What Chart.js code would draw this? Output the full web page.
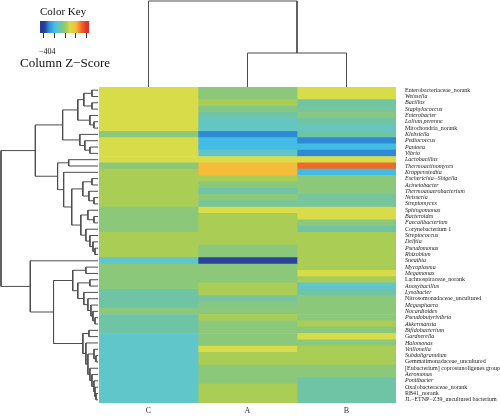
<!DOCTYPE html>
<html>
<head>
<meta charset="utf-8">
<script src="https://cdn.jsdelivr.net/npm/chart.js@4.4.1/dist/chart.umd.min.js"></script>
<style>
  body { margin: 0; background: #fff; }
  #wrap { position: relative; width: 500px; height: 416px; overflow: hidden; }
  #wrap canvas { position: absolute; left: 0; top: 0; }
  .txt { position: absolute; font-family: 'Liberation Serif', 'DejaVu Serif', serif; color: #111; white-space: nowrap; line-height: 1; }
</style>
</head>
<body>
<div id="wrap">
  <canvas id="heat" width="500" height="416"></canvas>
  <canvas id="rowDend" width="500" height="416"></canvas>
  <canvas id="colDend" width="500" height="416"></canvas>
  <canvas id="key" width="500" height="416"></canvas>
  <div class="txt" style="left:40px;top:6px;font-size:11px">Color Key</div>
  <div class="txt" style="left:39px;top:48px;font-size:8px">−404</div>
  <div class="txt" style="left:20px;top:56px;font-size:13px">Column Z−Score</div>
</div>
<script>
// heatmap of column z-scores, rows clustered

const colNames = ['C', 'A', 'B'];

const rowNames = [
  'Enterobacteriaceae_norank', 'Weissella', 'Bacillus', 'Staphylococcus', 'Enterobacter',
  'Lolium perenne', 'Mitochondria_norank', 'Klebsiella', 'Pediococcus', 'Pantoea',
  'Vibrio', 'Lactobacillus', 'Thermoactinomyces', 'Kroppenstedtia', 'Escherichia−Shigella',
  'Acinetobacter', 'Thermoanaerobacterium', 'Neisseria', 'Streptomyces', 'Sphingomonas',
  'Bacteroides', 'Faecalibacterium', 'Corynebacterium 1', 'Streptococcus', 'Delftia',
  'Pseudomonas', 'Rhizobium', 'Sneathia', 'Mycoplasma', 'Megamonas',
  'Lachnospiraceae_norank', 'Anoxybacillus', 'Lysobacter', 'Nitrosomonadaceae_uncultured', 'Megasphaera',
  'Nocardioides', 'Pseudobutyrivibrio', 'Akkermansia', 'Bifidobacterium', 'Gardnerella',
  'Halomonas', 'Veillonella', 'Subdoligranulum', 'Gemmatimonadaceae_uncultured', '[Eubacterium] coprostanoligenes group',
  'Aeromonas', 'Pontibacter', 'Oxalobacteraceae_norank', 'RB41_norank', 'JL−ETNP−Z39_uncultured bacterium'
];

// labels that are not set in italics
const uprightRows = [
  'Enterobacteriaceae_norank', 'Mitochondria_norank', 'Corynebacterium 1', 'Lachnospiraceae_norank',
  'Nitrosomonadaceae_uncultured', 'Gemmatimonadaceae_uncultured', '[Eubacterium] coprostanoligenes group',
  'Oxalobacteraceae_norank', 'RB41_norank', 'JL−ETNP−Z39_uncultured bacterium'
];

// z-scores per column, top to bottom
const zC = [
  0.9, 0.9, 0.9, 0.9, 0.9, 0.9, 0.9, -0.3, 0.9, 0.9,
  0.9, 0.9, -0.3, 0.3, 0.3, 0.3, 0.3, 0.3, 0.3, -0.3,
  -0.3, -0.3, -0.3, 0.3, 0.3, 0.3, 0.3, -1.3, -0.3, -0.3,
  -0.3, -0.3, -0.8, -0.8, -0.8, -0.3, -0.8, -0.8, -0.8, -1.3,
  -1.3, -1.3, -1.3, -1.3, -1.3, -1.3, -1.3, -1.3, -1.3, -1.3
];
const zA = [
  -0.3, -0.3, 0.3, -0.4, -0.8, -1.2, -1.2, -3.0, -2.0, -2.0,
  -1.3, 0.9, 2.0, 2.0, 0.3, -0.3, -0.8, -0.3, -0.7, 0.9,
  0.3, 0.3, 0.3, 0.3, 0.3, -0.3, -0.3, -3.8, -0.3, -0.3,
  -0.3, 0.3, 0.3, -0.7, -0.4, -0.3, 0.3, -0.3, -0.3, -0.3,
  -0.3, 0.9, 0.3, 0.3, -0.3, -0.3, -0.3, 0.3, 0.3, 0.3
];
const zB = [
  0.9, 0.9, -0.8, -0.7, -0.4, -0.8, -1.1, -0.8, -3.0, -2.0,
  -3.0, 0.9, 3.0, -2.0, -0.3, -0.3, -0.3, -0.7, -0.7, 0.9,
  0.9, -0.3, -0.8, 0.3, 0.3, 0.3, 0.3, 0.3, 0.3, 0.9,
  0.3, -1.3, -0.8, -0.3, -0.3, -0.3, -0.3, 0.3, -0.3, 0.9,
  -0.3, 0.3, 0.3, 0.3, -0.3, -0.3, -0.8, -0.8, -0.8, -0.8
];

// colour key
const keyStops = [-4, -3.6, -3, -2, -1.3, -0.8, -0.3, 0.3, 0.9, 2, 3, 4];
const keyColors = ['#283a93', '#2b4ba0', '#2e8ad4', '#42bce4', '#60c6ca', '#70c4a6',
                   '#8cc87a', '#a9cd55', '#d8dc48', '#f5bd3a', '#ef6a2a', '#e3302a'];
const keyTicks = [-4, -2, 0, 2, 4];
const keyRange = [-4.6, 4.4];

// dendrograms: [height, left, right], numbers are leaf indices
const rowTree = [96,
  [62,
    [35,
      [20, [14, [6, 0, 1], [6, 2, 3]], [8, 4, [4, 5, 6]]],
      [18, 7, [13, 8, [8, 9, 10]]]],
    [40,
      [29, 11, 12],
      [34, 13,
        [26,
          [15, [6, 14, 15], [9, 16, [4, 17, 18]]],
          [17, [10, 19, [4, 20, 21]], [12, 22, [8, 23, [5, 24, [3, 25, 26]]]]]]]]],
  [67, 27,
    [44,
      [25, [12, 28, 29], [20, [8, 30, 31], [14, 32, [10, 33, [7, 34, [5, 35, [3, 36, 37]]]]]]],
      [15, [9, 38, 39], [12, 40, [10, [4, 41, [2, 42, 43]], [8, 44, [6, 45, [4, 46, [3, 47, [2, 48, 49]]]]]]]]]]];
const colTree = [86, 0, [34, 1, 2]];

const serif = "'Liberation Serif', 'DejaVu Serif', serif";
const lineColor = '#4d4d4d';

function hexRgb(hex) {
  return [1, 3, 5].map(i => parseInt(hex.slice(i, i + 2), 16));
}

function zColor(z) {
  const v = Math.max(keyStops[0], Math.min(keyStops[keyStops.length - 1], z));
  let i = 0;
  while (i < keyStops.length - 2 && v > keyStops[i + 1]) i++;
  const t = (v - keyStops[i]) / (keyStops[i + 1] - keyStops[i]);
  const a = hexRgb(keyColors[i]), b = hexRgb(keyColors[i + 1]);
  return 'rgb(' + a.map((c, k) => Math.round(c + (b[k] - c) * t)).join(',') + ')';
}

// walk a tree and collect the bracket polylines, gaps between them
function treeLines(node, pts) {
  if (typeof node === 'number') return { pos: node + 0.5, h: 0 };
  const [h, a, b] = node;
  const l = treeLines(a, pts);
  const r = treeLines(b, pts);
  pts.push({ h: l.h, p: l.pos }, { h: h, p: l.pos }, { h: h, p: r.pos }, { h: r.h, p: r.pos }, { h: h, p: null });
  return { pos: (l.pos + r.pos) / 2, h: h };
}

const baseOpts = {
  responsive: false,
  animation: false,
  events: [],
  plugins: { legend: { display: false }, tooltip: { enabled: false } }
};

// main heatmap
new Chart(document.getElementById('heat'), {
  type: 'bar',
  data: {
    labels: rowNames,
    datasets: [zC, zA, zB].map((vals, ci) => ({
      label: colNames[ci],
      data: vals.map(() => [ci, ci + 1]),
      backgroundColor: vals.map(zColor),
      borderWidth: 0,
      barPercentage: 1,
      categoryPercentage: 1,
      grouped: false
    }))
  },
  options: {
    ...baseOpts,
    indexAxis: 'y',
    layout: { padding: { left: 99, top: 87, right: 0, bottom: 0 } },
    scales: {
      x: {
        type: 'linear', min: 0, max: 3, position: 'bottom',
        grid: { display: false, drawTicks: false }, border: { display: false },
        afterBuildTicks: s => { s.ticks = colNames.map((n, i) => ({ value: i + 0.5 })); },
        afterFit: s => { s.height = 13; },
        ticks: {
          callback: v => colNames[Math.floor(v)],
          font: { family: serif, size: 8 }, color: '#333', padding: 3
        }
      },
      y: {
        position: 'right',
        grid: { display: false, drawTicks: false }, border: { display: false },
        afterFit: s => { s.width = 104; },
        ticks: {
          autoSkip: false, padding: 9, color: '#1a1a1a',
          font: ctx => ({
            family: serif, size: 6,
            style: uprightRows.includes(rowNames[ctx.index]) ? 'normal' : 'italic'
          })
        }
      }
    }
  }
});

// row dendrogram on the left
const rowPts = [];
treeLines(rowTree, rowPts);
new Chart(document.getElementById('rowDend'), {
  type: 'scatter',
  data: {
    datasets: [{
      data: rowPts.map(q => ({ x: q.h, y: q.p === null ? null : q.p - 0.5 })),
      showLine: true, spanGaps: false, borderColor: lineColor, borderWidth: 1,
      pointRadius: 0, clip: false
    }]
  },
  options: {
    ...baseOpts,
    layout: { padding: { left: 1, right: 402, top: 87, bottom: 13 } },
    scales: {
      x: { type: 'linear', display: false, reverse: true, min: 0, max: rowTree[0] },
      y: { type: 'linear', display: false, reverse: true, min: -0.5, max: rowNames.length - 0.5 }
    }
  }
});

// column dendrogram on top
const colPts = [];
treeLines(colTree, colPts);
new Chart(document.getElementById('colDend'), {
  type: 'scatter',
  data: {
    datasets: [{
      data: colPts.map(q => ({ x: q.p, y: q.p === null ? null : q.h })),
      showLine: true, spanGaps: false, borderColor: lineColor, borderWidth: 1,
      pointRadius: 0, clip: false
    }]
  },
  options: {
    ...baseOpts,
    layout: { padding: { left: 99, right: 104, top: 0, bottom: 329 } },
    scales: {
      x: { type: 'linear', display: false, min: 0, max: colNames.length },
      y: { type: 'linear', display: false, min: 0, max: 87 }
    }
  }
});

// colour key bar
new Chart(document.getElementById('key'), {
  type: 'bar',
  data: {
    labels: ['key'],
    datasets: [{
      data: [keyRange],
      borderWidth: 0, barPercentage: 1, categoryPercentage: 1,
      backgroundColor: ctx => {
        const chart = ctx.chart;
        if (!chart.chartArea) return keyColors[0];
        const xs = chart.scales.x;
        const g = chart.ctx.createLinearGradient(xs.left, 0, xs.right, 0);
        keyStops.forEach((z, i) => {
          g.addColorStop((z - xs.min) / (xs.max - xs.min), keyColors[i]);
        });
        return g;
      }
    }]
  },
  options: {
    ...baseOpts,
    indexAxis: 'y',
    layout: { padding: { left: 40, right: 411, top: 21, bottom: 377 } },
    scales: {
      x: {
        type: 'linear', min: keyRange[0], max: keyRange[1],
        afterBuildTicks: s => { s.ticks = keyTicks.map(v => ({ value: v })); },
        afterFit: s => { s.height = 6; },
        grid: { display: true, drawOnChartArea: false, drawTicks: true, tickLength: 5, color: '#333' },
        border: { display: false },
        ticks: { display: false }
      },
      y: { display: false }
    }
  }
});
</script>
</body>
</html>
